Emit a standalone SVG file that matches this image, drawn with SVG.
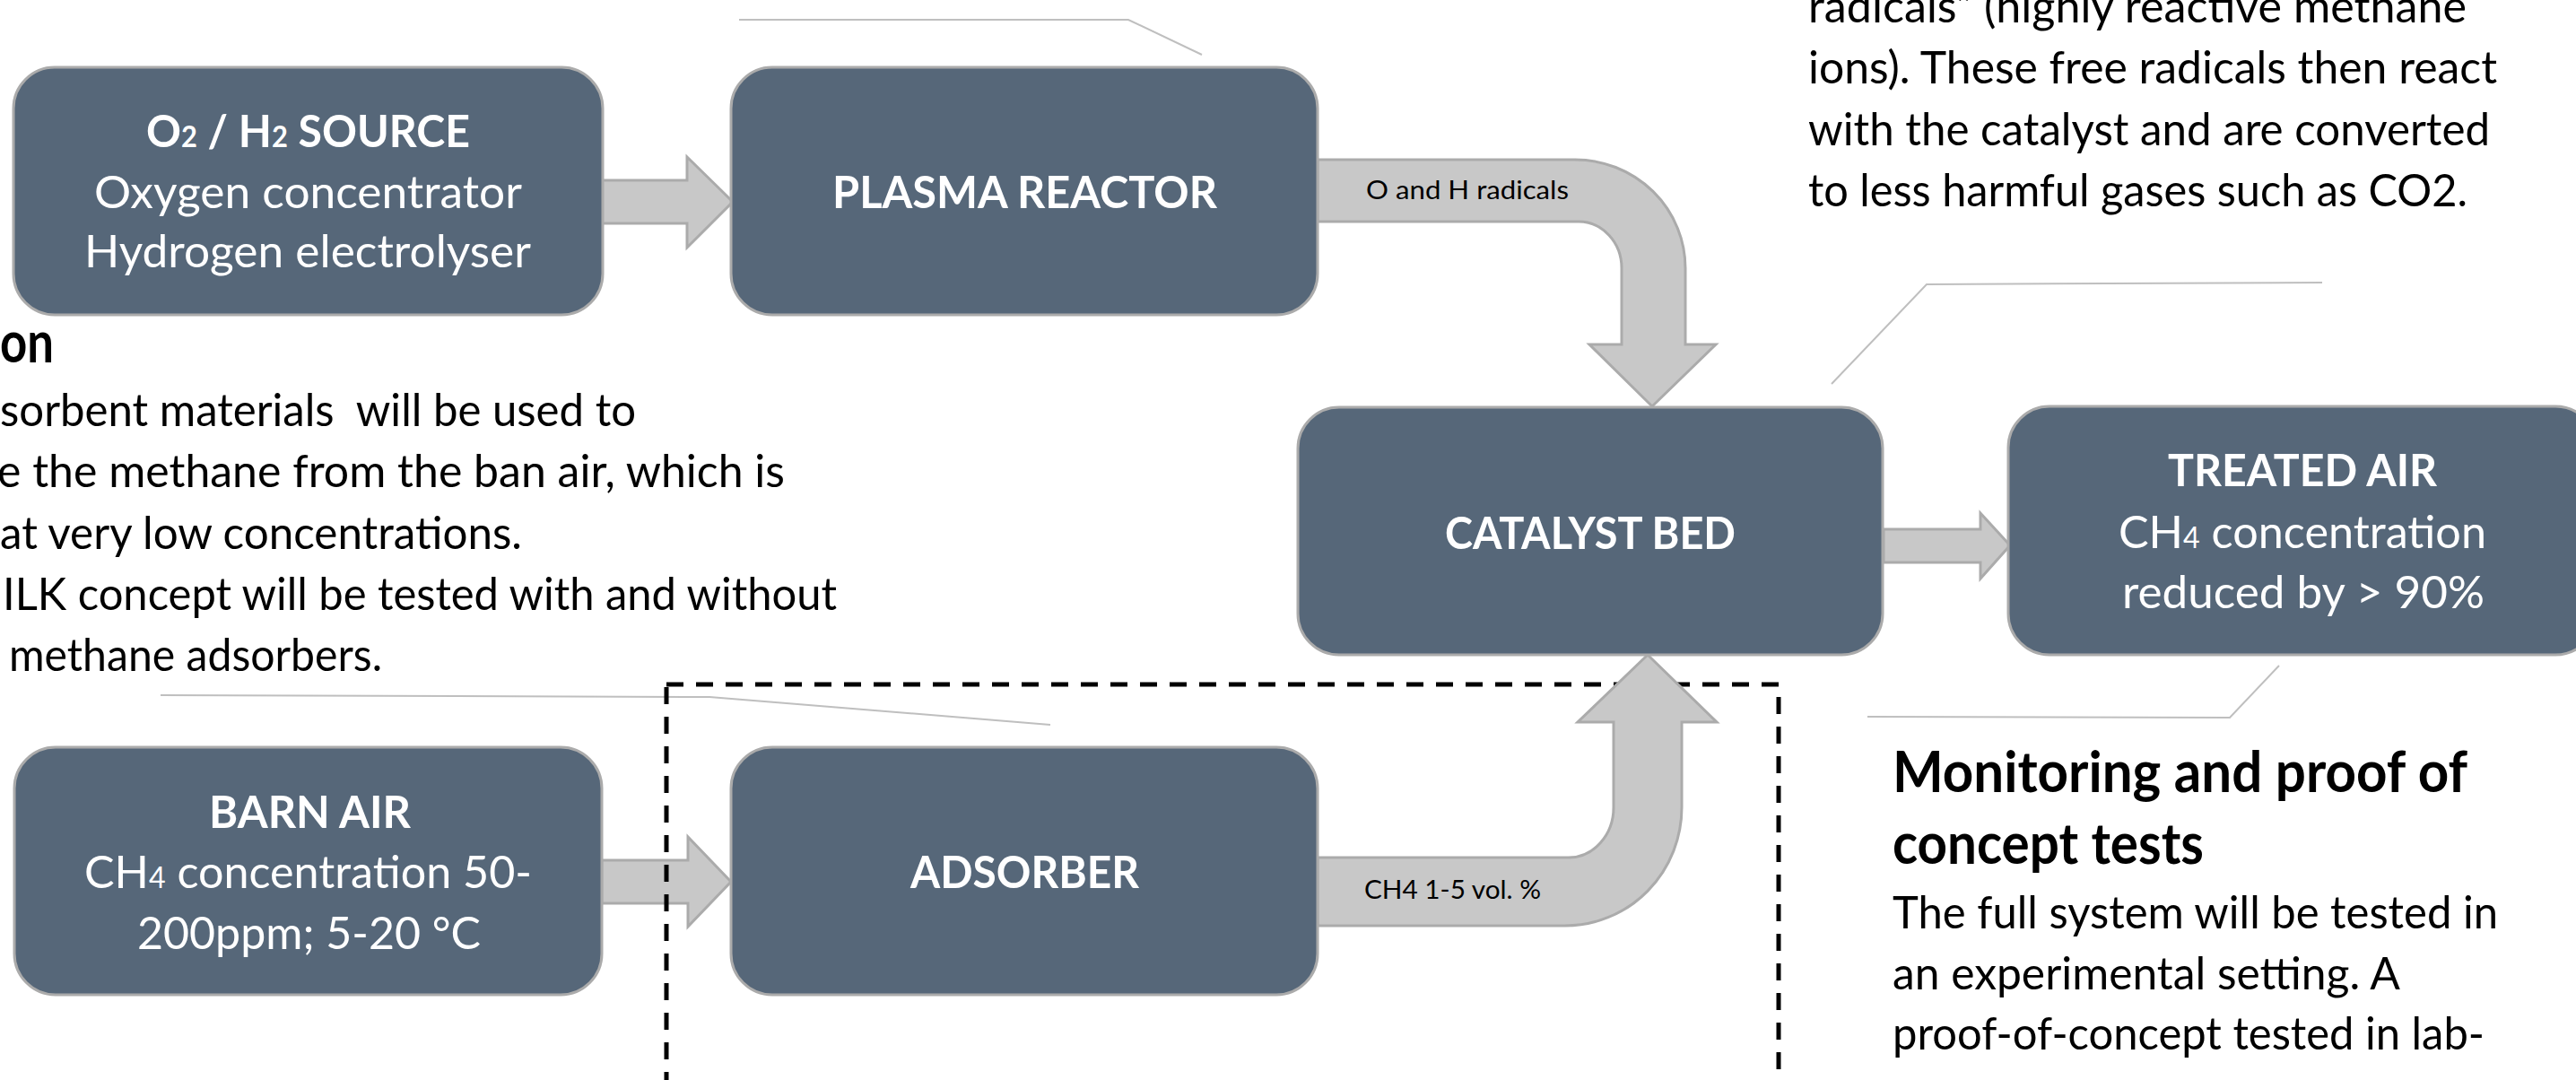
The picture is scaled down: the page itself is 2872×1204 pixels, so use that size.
<svg xmlns="http://www.w3.org/2000/svg" width="2872" height="1204" viewBox="0 0 2872 1204">
<style>
.node{fill:#566779;stroke:#ABABAB;stroke-width:3}
.t{font-family:Lato,"Liberation Sans",sans-serif;font-size:50px;fill:#fff}
.b{font-weight:bold}
.d{font-family:Lato,"Liberation Sans",sans-serif;font-size:50px;fill:#000}
.h{font-family:Lato,"Liberation Sans",sans-serif;font-size:64px;font-weight:bold;fill:#000}
.lbl{font-family:Lato,"Liberation Sans",sans-serif;font-size:28px;fill:#000}
.arrow{fill:#C8C8C8;stroke:#ABABAB;stroke-width:3;stroke-linejoin:miter}
.call{fill:none;stroke:#BFBFBF;stroke-width:2}
.dash{fill:none;stroke:#000;stroke-width:5;stroke-dasharray:19 14}
</style>
<rect width="2872" height="1204" fill="#fff"/>

<g id="callouts">
<polyline class="call" points="824,22 1258,22 1340,61"/>
<polyline class="call" points="2042,428 2148,317 2589,315"/>
<polyline class="call" points="2541,742 2486,800 2082,799"/>
<polyline class="call" points="179,775 791,777 1171,808"/>
</g>

<g id="text-left">
<text class="h" x="0" y="404" textLength="60" lengthAdjust="spacingAndGlyphs">on</text>
<text class="d" x="0" y="475" textLength="709" lengthAdjust="spacingAndGlyphs" xml:space="preserve">sorbent materials  will be used to</text>
<text class="d" x="-3" y="543" textLength="878" lengthAdjust="spacingAndGlyphs">e the methane from the ban air, which is</text>
<text class="d" x="0" y="612" textLength="582" lengthAdjust="spacingAndGlyphs">at very low concentrations.</text>
<text class="d" x="3" y="680" textLength="930" lengthAdjust="spacingAndGlyphs">ILK concept will be tested with and without</text>
<text class="d" x="10" y="748" textLength="416" lengthAdjust="spacingAndGlyphs">methane adsorbers.</text>
</g>

<g id="text-top-right">
<text class="d" x="2016" y="25" textLength="734" lengthAdjust="spacingAndGlyphs">radicals” (highly reactive methane</text>
<text class="d" x="2016" y="93" textLength="768" lengthAdjust="spacingAndGlyphs">ions). These free radicals then react</text>
<text class="d" x="2016" y="162" textLength="760" lengthAdjust="spacingAndGlyphs">with the catalyst and are converted</text>
<text class="d" x="2016" y="230" textLength="735" lengthAdjust="spacingAndGlyphs">to less harmful gases such as CO2.</text>
</g>

<g id="text-bottom-right">
<text class="h" x="2110" y="883" textLength="641" lengthAdjust="spacingAndGlyphs">Monitoring and proof of</text>
<text class="h" x="2110" y="963" textLength="347" lengthAdjust="spacingAndGlyphs">concept tests</text>
<text class="d" x="2110" y="1035" textLength="675" lengthAdjust="spacingAndGlyphs">The full system will be tested in</text>
<text class="d" x="2110" y="1103" textLength="566" lengthAdjust="spacingAndGlyphs">an experimental setting. A</text>
<text class="d" x="2110" y="1170" textLength="660" lengthAdjust="spacingAndGlyphs">proof-of-concept tested in lab-</text>
</g>

<g id="connectors">
<path class="arrow" d="M671,201 H766 V175 L817,225 L766,276 V249 H671 Z"/>
<path class="arrow" d="M671,959 H767 V933 L815,983 L767,1033 V1007 H671 Z"/>
<rect class="dash" x="743" y="763" width="1240" height="520"/>
<path class="arrow" d="M1469,178 H1756 A123 121 0 0 1 1879,299 V384 H1913 L1842,453 L1772,384 H1808 V299 A48 52 0 0 0 1760,247 H1469 Z"/>
<path class="arrow" d="M1469,956 H1749 A50 56 0 0 0 1799,900 V805 H1759 L1837,730 L1914,805 H1875 V900 A130 132 0 0 1 1745,1032 H1469 Z"/>
<path class="arrow" d="M2100,590 H2208 V572 L2241,608 L2208,645 V627 H2100 Z"/>
<text class="lbl" x="1523" y="222" textLength="226" lengthAdjust="spacingAndGlyphs">O and H radicals</text>
<text class="lbl" x="1521" y="1002" textLength="197" lengthAdjust="spacingAndGlyphs">CH4 1-5 vol. %</text>
</g>

<g id="node-source">
<rect class="node" x="15" y="75" width="657" height="276" rx="46"/>
<text class="t b" x="163" y="164" textLength="361" lengthAdjust="spacingAndGlyphs">O<tspan font-size="32">2</tspan> / H<tspan font-size="32">2</tspan> SOURCE</text>
<text class="t" x="105" y="232" textLength="477" lengthAdjust="spacingAndGlyphs">Oxygen concentrator</text>
<text class="t" x="94" y="298" textLength="498" lengthAdjust="spacingAndGlyphs">Hydrogen electrolyser</text>
</g>

<g id="node-plasma">
<rect class="node" x="815" y="75" width="654" height="276" rx="46"/>
<text class="t b" x="928" y="232" textLength="429" lengthAdjust="spacingAndGlyphs">PLASMA REACTOR</text>
</g>

<g id="node-catalyst">
<rect class="node" x="1447" y="454" width="652" height="276" rx="46"/>
<text class="t b" x="1611" y="612" textLength="324" lengthAdjust="spacingAndGlyphs">CATALYST BED</text>
</g>

<g id="node-treated">
<rect class="node" x="2239" y="453" width="656" height="277" rx="46"/>
<text class="t b" x="2417" y="542" textLength="300" lengthAdjust="spacingAndGlyphs">TREATED AIR</text>
<text class="t" x="2362" y="611" textLength="410" lengthAdjust="spacingAndGlyphs">CH<tspan font-size="32">4</tspan> concentration</text>
<text class="t" x="2366" y="678" textLength="404" lengthAdjust="spacingAndGlyphs">reduced by &gt; 90%</text>
</g>

<g id="node-barn">
<rect class="node" x="16" y="833" width="655" height="276" rx="46"/>
<text class="t b" x="233" y="923" textLength="225" lengthAdjust="spacingAndGlyphs">BARN AIR</text>
<text class="t" x="94" y="990" textLength="499" lengthAdjust="spacingAndGlyphs">CH<tspan font-size="32">4</tspan> concentration 50-</text>
<text class="t" x="153" y="1058" textLength="383" lengthAdjust="spacingAndGlyphs">200ppm; 5-20 °C</text>
</g>

<g id="node-adsorber">
<rect class="node" x="815" y="833" width="654" height="276" rx="46"/>
<text class="t b" x="1015" y="990" textLength="255" lengthAdjust="spacingAndGlyphs">ADSORBER</text>
</g>
</svg>
